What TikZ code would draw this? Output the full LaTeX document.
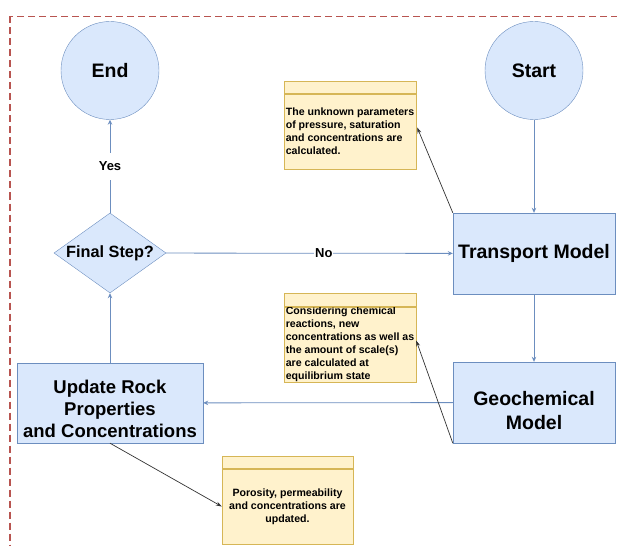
\documentclass[tikz,border=0pt]{standalone}
\usepackage{fontspec}
\setmainfont{Liberation Sans}
\usetikzlibrary{shapes.geometric,arrows.meta,calc}
\definecolor{bfill}{HTML}{DAE8FC}
\definecolor{bline}{HTML}{6C8EBF}
\definecolor{nfill}{HTML}{FFF2CC}
\definecolor{nline}{HTML}{D6B656}
\definecolor{dred}{HTML}{B85450}
\begin{document}
\begin{tikzpicture}[x=1pt,y=-1pt,
  term/.style={circle, draw=bline, fill=bfill, minimum size=98pt, inner sep=0pt, font=\bfseries\fontsize{19.5}{23}\selectfont},
  proc/.style={rectangle, draw=bline, fill=bfill, minimum width=162pt, minimum height=81pt, inner sep=0pt, align=center, font=\bfseries\fontsize{19.5}{24}\selectfont},
  dec/.style={diamond, draw=bline, fill=bfill, aspect=1.4, minimum width=112pt, minimum height=80pt, inner sep=0pt, font=\bfseries\fontsize{16.3}{19}\selectfont},
  notebody/.style={rectangle, draw=nline, fill=nfill, minimum width=132pt, minimum height=75pt, inner sep=0pt, font=\bfseries\fontsize{10.6}{13}\selectfont},
  notehead/.style={rectangle, draw=nline, fill=nfill, minimum width=132pt, minimum height=12pt, inner sep=0pt},
  flow/.style={draw=bline, line width=0.8pt, -{Stealth[length=5pt,width=4.5pt]}},
  link/.style={draw=black!80, line width=0.7pt, -{Stealth[length=6pt,width=4pt]}},
  lbl/.style={fill=white, inner xsep=1pt, inner ysep=9pt, font=\bfseries\fontsize{13}{15}\selectfont}
]
\useasboundingbox (0,0) rectangle (617,545);
\clip (0,0) rectangle (617,545);
\draw[dred, line width=1.8pt, dash pattern=on 7pt off 4pt] (10,16.5) rectangle (660,600);

\node[term] (end) at (110,70.5) {End};
\node[term] (start) at (534,70.5) {Start};
\node[proc] (tm) at (534,253.5) {Transport Model};
\node[proc] (geo) at (534,402.5) {\rule{0pt}{30pt}Geochemical\\Model};
\node[proc, minimum width=186pt, minimum height=80pt, font=\bfseries\fontsize{18.5}{22}\selectfont] (upd) at (110,403) {\rule{0pt}{25.5pt}Update Rock\\Properties\\and Concentrations};
\node[dec] (final) at (110,253) {Final Step?};

\node[notebody, align=left] (n1) at (350,131.5) {The unknown parameters\\of pressure, saturation\\and concentrations are\\calculated.};
\node[notehead, anchor=south] (n1h) at (n1.north) {};
\node[notebody, align=left] (n2) at (350,344.5) {Considering chemical\\reactions, new\\concentrations as well as\\the amount of scale(s)\\are calculated at\\equilibrium state};
\node[notehead, anchor=south, minimum height=13pt] (n2h) at (n2.north) {};
\node[notebody, align=center, minimum width=131pt] (n3) at (287.5,506.5) {Porosity, permeability\\and concentrations are\\updated.};
\node[notehead, anchor=south, minimum width=131pt] (n3h) at (n3.north) {};

\draw[flow] (start) -- (tm);
\draw[flow] (tm) -- (geo);
\draw[flow] (geo) -- (upd);
\draw[flow] (upd) -- (final);
\draw[flow] (final) -- node[lbl] {Yes} (end);
\draw[flow] (final) -- node[lbl, pos=0.55] {No} (tm);

\draw[link] (tm.north west) -- ($(n1.east)+(1,-4)$);
\draw[link] (geo.south west) -- ($(n2.east)+(0,-4)$);
\draw[link] (upd.south) -- (n3.west);
\end{tikzpicture}
\end{document}
